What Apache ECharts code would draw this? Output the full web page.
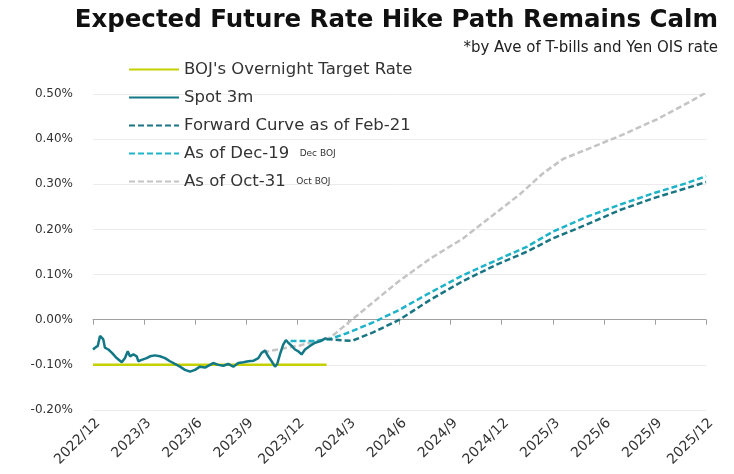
<!DOCTYPE html>
<html>
<head>
<meta charset="utf-8">
<script src="https://cdn.jsdelivr.net/npm/echarts@6/dist/echarts.min.js"></script>
<style>
html,body{margin:0;padding:0;background:#fff;}
#chart{width:734px;height:474px;}
</style>
</head>
<body>
<div id="chart"></div>
<script>
// x positions are months elapsed since the end of 2022/12 (tick k*3 = end of that quarter month)
const xTickLabels = ['2022/12','2023/3','2023/6','2023/9','2023/12','2024/3','2024/6','2024/9','2024/12','2025/3','2025/6','2025/9','2025/12'];

const seriesNames = ["BOJ's Overnight Target Rate", 'Spot 3m', 'Forward Curve as of Feb-21', 'As of Dec-19', 'As of Oct-31'];
const legendNotes = {'As of Dec-19': 'Dec BOJ', 'As of Oct-31': 'Oct BOJ'};

const bojMonths = [0, 13.72];
const bojValues = [-0.10, -0.10];

const spotMonths = [0,0.12,0.28,0.41,0.51,0.60,0.70,0.90,1.10,1.39,1.69,1.88,2.04,2.17,2.37,2.57,2.66,2.86,3.15,3.35,3.64,3.93,4.23,4.52,4.81,5.11,5.40,5.70,5.99,6.28,6.58,6.87,7.06,7.36,7.65,7.94,8.24,8.53,8.83,9.12,9.41,9.71,9.91,10.10,10.29,10.49,10.69,10.82,10.98,11.17,11.33,11.47,11.67,11.86,12.06,12.25,12.45,12.74,13.04,13.33,13.62,13.72];
const spotValues = [-0.066,-0.062,-0.058,-0.036,-0.032,-0.043,-0.062,-0.066,-0.073,-0.085,-0.094,-0.085,-0.070,-0.081,-0.077,-0.081,-0.092,-0.089,-0.085,-0.081,-0.079,-0.081,-0.085,-0.092,-0.098,-0.104,-0.111,-0.115,-0.111,-0.104,-0.106,-0.100,-0.096,-0.100,-0.102,-0.098,-0.104,-0.096,-0.094,-0.092,-0.091,-0.085,-0.073,-0.068,-0.081,-0.092,-0.104,-0.098,-0.077,-0.055,-0.045,-0.051,-0.058,-0.066,-0.070,-0.077,-0.066,-0.058,-0.051,-0.048,-0.042,-0.041];

const feb21Months = [13.72,15.2,16.45,18.0,19.8,21.7,23.7,25.5,27.0,29.0,30.95,32.9,34.9,36.0];
const feb21Values = [-0.043,-0.047,-0.028,0.000,0.044,0.085,0.122,0.151,0.180,0.211,0.243,0.269,0.292,0.305];

const dec19Months = [11.6,13.15,13.9,14.9,16.45,18.0,19.8,21.7,23.7,25.5,27.0,29.0,30.95,32.9,34.9,36.0];
const dec19Values = [-0.047,-0.047,-0.043,-0.030,-0.006,0.022,0.060,0.098,0.132,0.162,0.195,0.228,0.255,0.280,0.303,0.318];

const oct31Months = [10.0,12.15,13.92,15.2,15.85,17.85,19.79,21.73,25.07,26.42,27.60,29.18,31.12,33.12,35.06,36.0];
const oct31Values = [-0.072,-0.057,-0.040,0.000,0.020,0.082,0.135,0.180,0.278,0.324,0.356,0.380,0.410,0.444,0.483,0.503];

const pair = (xs, ys) => xs.map((x, i) => [x, ys[i]]);

const FONT = 'DejaVu Sans';
const chart = echarts.init(document.getElementById('chart'));

const lineSeries = (name, xs, ys, color, type, width, z) => ({
  name, type: 'line', xAxisIndex: 0, data: pair(xs, ys), symbol: 'none', smooth: false, z,
  lineStyle: {color, width, type}, itemStyle: {color}
});

chart.setOption({
  animation: false,
  backgroundColor: '#ffffff',
  title: [
    {text: 'Expected Future Rate Hike Path Remains Calm', right: 11, top: 3,
     textStyle: {fontFamily: FONT, fontWeight: 'bold', fontSize: 24.5, color: '#111'}},
    {text: '*by Ave of T-bills and Yen OIS rate', right: 11, top: 36,
     textStyle: {fontFamily: FONT, fontWeight: 'normal', fontSize: 15, color: '#222'}}
  ],
  legend: {
    orient: 'vertical', left: 123, top: 56, itemWidth: 50, itemHeight: 14, itemGap: 11,
    data: seriesNames,
    itemStyle: {opacity: 0},
    formatter: n => legendNotes[n] ? n + '  {n|' + legendNotes[n] + '}' : n,
    textStyle: {fontFamily: FONT, fontSize: 16.5, color: '#333', lineHeight: 14,
      rich: {n: {fontFamily: FONT, fontSize: 9, color: '#333'}}}
  },
  grid: {left: 93, right: 28, top: 94, bottom: 64},
  xAxis: [
    {type: 'value', min: 0, max: 36, interval: 3, position: 'bottom',
     axisLine: {onZero: true, lineStyle: {color: '#a0a0a0', width: 1}},
     axisTick: {show: true, length: 5, lineStyle: {color: '#a0a0a0'}},
     axisLabel: {show: false}, splitLine: {show: false}},
    {type: 'value', min: 0, max: 36, interval: 3, position: 'bottom',
     axisLine: {show: false, onZero: false}, axisTick: {show: false}, splitLine: {show: false},
     axisLabel: {rotate: 45, margin: 6, verticalAlign: 'top', fontFamily: FONT, fontSize: 14, color: '#333',
       formatter: v => xTickLabels[Math.round(v / 3)] || ''}}
  ],
  yAxis: {
    type: 'value', min: -0.2, max: 0.5, interval: 0.1,
    axisLine: {show: false}, axisTick: {show: false},
    splitLine: {lineStyle: {color: '#ececec', width: 1}},
    axisLabel: {fontFamily: FONT, fontSize: 12, color: '#333', margin: 20,
      formatter: v => v.toFixed(2) + '%'}
  },
  series: [
    lineSeries(seriesNames[0], bojMonths, bojValues, '#c5d000', 'solid', 2.5, 2),
    lineSeries(seriesNames[1], spotMonths, spotValues, '#137886', 'solid', 2.5, 5),
    lineSeries(seriesNames[2], feb21Months, feb21Values, '#1a7583', [6, 3], 2.5, 4),
    lineSeries(seriesNames[3], dec19Months, dec19Values, '#1eb3c9', [6, 3], 2.5, 3),
    lineSeries(seriesNames[4], oct31Months, oct31Values, '#c4c4c4', [6, 3], 2.5, 1)
  ]
});
</script>
</body>
</html>
